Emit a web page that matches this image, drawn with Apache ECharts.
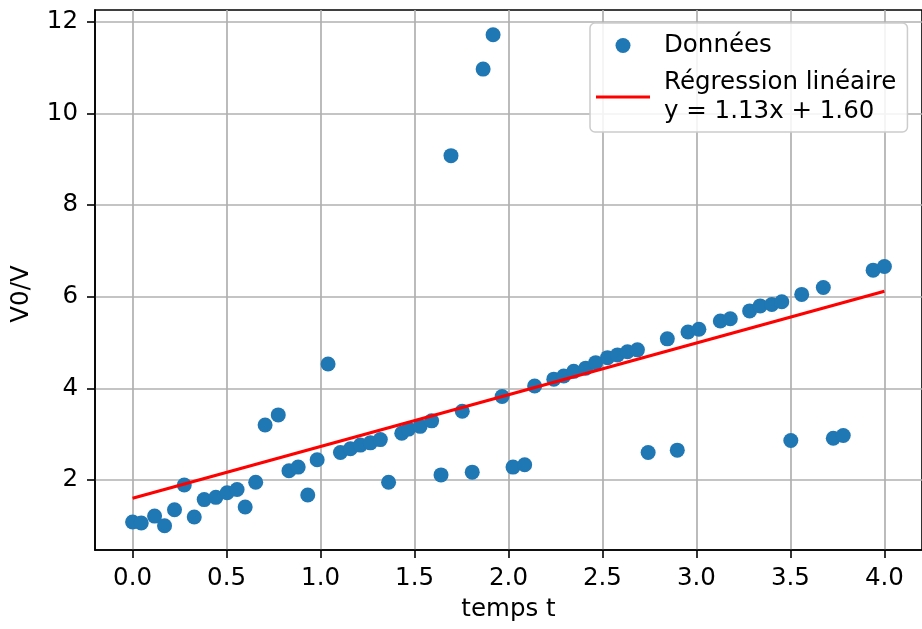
<!DOCTYPE html>
<html>
<head>
<meta charset="utf-8">
<script src="https://cdn.jsdelivr.net/npm/echarts@6/dist/echarts.min.js"></script>
<style>
html,body{margin:0;padding:0;background:#fff;}
#chart{width:922px;height:629px;}
</style>
</head>
<body>
<div id="chart"></div>
<script>
// ---- data ----
const tValues = [0.000,0.046,0.117,0.170,0.223,0.275,0.328,0.381,0.443,0.503,0.556,0.599,0.655,0.705,0.775,0.832,0.881,0.932,0.982,1.040,1.106,1.159,1.212,1.265,1.318,1.362,1.432,1.468,1.530,1.591,1.641,1.694,1.754,1.807,1.865,1.918,1.966,2.024,2.086,2.139,2.241,2.294,2.347,2.411,2.464,2.527,2.580,2.633,2.686,2.743,2.845,2.898,2.955,3.013,3.127,3.180,3.283,3.339,3.401,3.454,3.502,3.560,3.675,3.728,3.781,3.940,4.000];
const v0vValues = [1.08,1.06,1.21,1.00,1.35,1.89,1.19,1.57,1.62,1.72,1.79,1.41,1.95,3.20,3.42,2.20,2.28,1.67,2.44,4.53,2.60,2.68,2.76,2.81,2.88,1.95,3.02,3.11,3.17,3.29,2.11,9.08,3.50,2.17,10.97,11.72,3.82,2.28,2.33,4.05,4.20,4.27,4.37,4.44,4.56,4.67,4.73,4.80,4.84,2.60,5.08,2.65,5.23,5.29,5.47,5.52,5.69,5.80,5.83,5.89,2.86,6.05,6.20,2.91,2.97,6.58,6.66];
const slope = 1.13;
const intercept = 1.60;
const regT = [0, 4];
const xTicks = [0, 0.5, 1.0, 1.5, 2.0, 2.5, 3.0, 3.5, 4.0];
const yTicks = [2, 4, 6, 8, 10, 12];
const scatterName = 'Données';
const regName = 'Régression linéaire\ny = ' + slope.toFixed(2) + 'x + ' + intercept.toFixed(2);
const xLabel = 'temps t';
const yLabel = 'V0/V';

const scatterData = tValues.map((t, i) => [t, v0vValues[i]]);
const regData = regT.map(t => [t, slope * t + intercept]);

const FONT = 'DejaVu Sans';
const FS = 24.5;
const chart = echarts.init(document.getElementById('chart'), null, {renderer: 'canvas'});
chart.setOption({
  animation: false,
  backgroundColor: '#ffffff',
  grid: {
    left: 95, top: 10, width: 831, height: 540,
    show: true, borderColor: '#000', borderWidth: 1.6, backgroundColor: 'transparent'
  },
  xAxis: {
    type: 'value', min: -0.2, max: 4.2,
    name: xLabel, nameLocation: 'middle', nameGap: 47,
    nameTextStyle: {fontFamily: FONT, fontSize: FS, color: '#000'},
    axisLine: {show: true, onZero: false, lineStyle: {color: '#000', width: 1.6}},
    axisTick: {show: true, customValues: xTicks, length: 8, lineStyle: {color: '#000', width: 1.6}},
    axisLabel: {customValues: xTicks, margin: 16, fontFamily: FONT, fontSize: FS, color: '#000',
      formatter: v => Number(v).toFixed(1)},
    splitLine: {show: true, lineStyle: {color: '#b0b0b0', width: 1.7}}
  },
  yAxis: {
    type: 'value', min: 0.47, max: 12.26,
    name: yLabel, nameLocation: 'middle', nameGap: 61, nameRotate: 90,
    nameTextStyle: {fontFamily: FONT, fontSize: FS, color: '#000', padding: [0, 28, 0, 0]},
    axisLine: {show: true, onZero: false, lineStyle: {color: '#000', width: 1.6}},
    axisTick: {show: true, customValues: yTicks, length: 8, lineStyle: {color: '#000', width: 1.6}},
    axisLabel: {customValues: yTicks, margin: 17, fontFamily: FONT, fontSize: FS, color: '#000'},
    splitLine: {show: true, lineStyle: {color: '#b0b0b0', width: 1.7}}
  },
  legend: {
    orient: 'vertical', left: 590, top: 23,
    padding: [8, 11, 6, 6], itemGap: 8, itemWidth: 54, itemHeight: 15,
    backgroundColor: 'rgba(255,255,255,0.85)', borderColor: '#cccccc', borderWidth: 1.5, borderRadius: 5,
    textStyle: {fontFamily: FONT, fontSize: FS, lineHeight: 29, color: '#000', padding: [0, 0, 0, 9]},
    data: [
      {name: scatterName, icon: 'circle'},
      {name: regName, icon: 'path://M0,0h100v6h-100z', itemStyle: {color: '#ff0000'}}
    ]
  },
  series: [
    {
      name: scatterName, type: 'scatter', data: scatterData,
      symbol: 'circle', symbolSize: 15,
      itemStyle: {color: '#1f77b4', opacity: 1}, z: 2
    },
    {
      name: regName, type: 'line', data: regData,
      showSymbol: false, symbol: 'none',
      lineStyle: {color: '#ff0000', width: 3.2}, itemStyle: {color: '#ff0000'}, z: 3
    }
  ]
});
</script>
</body>
</html>
